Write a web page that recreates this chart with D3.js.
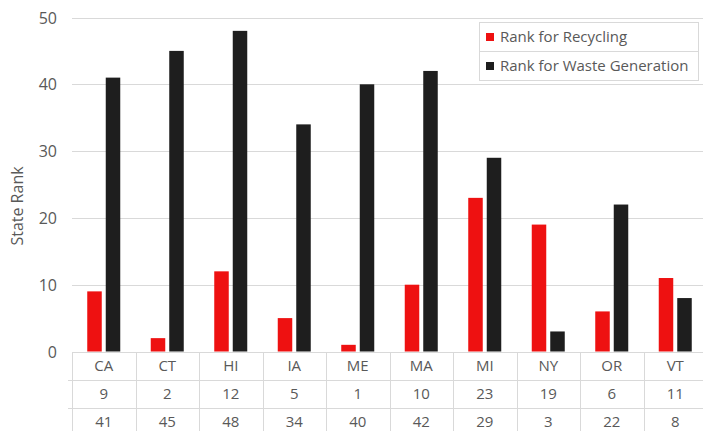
<!DOCTYPE html>
<html>
<head>
<meta charset="utf-8">
<script src="https://cdn.jsdelivr.net/npm/d3@7"></script>
<style>
  html, body { margin: 0; padding: 0; background: #fff; }
  svg { display: block; }
  text { font-family: "Open Sans", Lato, sans-serif; fill: #595959; }
</style>
</head>
<body>
<svg id="chart" width="703" height="431"></svg>
<script>
// State abbreviations along the category axis
const states = ["CA", "CT", "HI", "IA", "ME", "MA", "MI", "NY", "OR", "VT"];
// Rank values per state
const recyclingRank = [9, 2, 12, 5, 1, 10, 23, 19, 6, 11];
const wasteRank = [41, 45, 48, 34, 40, 42, 29, 3, 22, 8];
const seriesNames = ["Rank for Recycling", "Rank for Waste Generation"];
const yTicks = [0, 10, 20, 30, 40, 50];

const colors = ["#EE1111", "#1E1E1E"];
const gridColor = "#D9D9D9";

const W = 703, H = 431;
const margin = { left: 72, top: 17.5, bottom: 351.5 };
const catWidth = 63.5;
const svg = d3.select("#chart");

const x = d3.scaleBand()
  .domain(states)
  .range([margin.left, margin.left + catWidth * states.length])
  .paddingInner(0).paddingOuter(0);

const y = d3.scaleLinear().domain([0, 50]).range([margin.bottom, margin.top]);

// Horizontal gridlines
svg.append("g")
  .selectAll("line")
  .data(yTicks)
  .join("line")
  .attr("x1", margin.left).attr("x2", W)
  .attr("y1", d => Math.round(y(d)) + 0.5).attr("y2", d => Math.round(y(d)) + 0.5)
  .attr("stroke", gridColor).attr("stroke-width", 1);

// Y axis tick labels
const yAxis = d3.axisLeft(y).tickValues(yTicks).tickSize(0).tickPadding(0);
const gy = svg.append("g").attr("transform", `translate(57,0)`).call(yAxis);
gy.select(".domain").remove();
gy.selectAll("text")
  .attr("font-size", 16)
  .attr("font-family", "\"Open Sans\", Lato, sans-serif")
  .attr("fill", "#595959")
  .attr("dy", "0.35em");

// Y axis title
svg.append("text")
  .attr("transform", `translate(23,206) rotate(-90)`)
  .attr("text-anchor", "middle")
  .attr("font-size", 16)
  .text("State Rank");

// Bars
const barW = 14.5, gap = 4;
const series = [recyclingRank, wasteRank];
series.forEach((vals, si) => {
  svg.append("g")
    .selectAll("rect")
    .data(vals)
    .join("rect")
    .attr("x", (d, i) => {
      const c = x(states[i]) + x.bandwidth() / 2;
      return si === 0 ? c - gap / 2 - barW : c + gap / 2;
    })
    .attr("width", barW)
    .attr("y", d => y(d))
    .attr("height", d => y(0) - y(d))
    .attr("fill", colors[si]);
});

// Data table under the plot
const rowH = 28;
const table = svg.append("g");
const rows = [states, recyclingRank, wasteRank];
const tableTop = Math.round(y(0)) + 0.5;
// horizontal rules
[0, 1, 2].forEach(r => {
  table.append("line")
    .attr("x1", r === 0 ? margin.left : margin.left - 4).attr("x2", W)
    .attr("y1", tableTop + r * rowH).attr("y2", tableTop + r * rowH)
    .attr("stroke", gridColor);
});
// vertical rules
const bounds = states.map(s => x(s)).concat([x.range()[1]]);
table.selectAll("line.v")
  .data(bounds)
  .join("line")
  .attr("class", "v")
  .attr("x1", d => Math.round(d) + 0.5).attr("x2", d => Math.round(d) + 0.5)
  .attr("y1", tableTop).attr("y2", H)
  .attr("stroke", gridColor);
// cell text
rows.forEach((vals, r) => {
  table.append("g")
    .selectAll("text")
    .data(vals)
    .join("text")
    .attr("x", (d, i) => x(states[i]) + x.bandwidth() / 2)
    .attr("y", tableTop + r * rowH + 13)
    .attr("dy", "0.35em")
    .attr("text-anchor", "middle")
    .attr("font-size", 15)
    .text(d => d);
});

// Legend box
const lg = svg.append("g");
const lgX = 479.5, lgY = 22.5, lgW = 219, lgRowH = 29;
lg.append("rect")
  .attr("x", lgX).attr("y", lgY).attr("width", lgW).attr("height", lgRowH * 2)
  .attr("fill", "#fff").attr("stroke", gridColor);
lg.append("line")
  .attr("x1", lgX).attr("x2", lgX + lgW)
  .attr("y1", lgY + lgRowH).attr("y2", lgY + lgRowH)
  .attr("stroke", gridColor);
seriesNames.forEach((name, i) => {
  const cy = lgY + lgRowH * i + lgRowH / 2;
  lg.append("rect")
    .attr("x", 486).attr("y", cy - 4).attr("width", 8).attr("height", 8)
    .attr("fill", colors[i]);
  lg.append("text")
    .attr("x", 500).attr("y", cy)
    .attr("dy", "0.35em")
    .attr("font-size", 15)
    .text(name);
});
</script>
</body>
</html>
